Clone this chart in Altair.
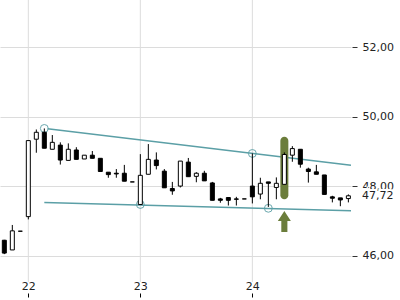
import altair as alt
import pandas as pd

# ---- data ----
idx = list(range(44))
opens = [46.44, 46.16, 46.70, 47.12, 49.35, 49.55, 49.06, 49.18, 48.74, 49.04,
         48.78, 48.89, 48.80, 48.40, 48.37, 48.37, 48.12, 47.47, 48.34, 48.75,
         48.43, 47.93, 48.00, 48.69, 48.28, 48.37, 48.09, 47.63, 47.67, 47.63,
         47.63, 48.00, 47.77, 48.12, 47.96, 48.05, 48.89, 49.06, 48.49, 48.41,
         48.32, 47.69, 47.66, 47.64]
highs = [46.45, 46.88, 46.70, 49.31, 49.63, 49.66, 49.47, 49.26, 49.23, 49.12,
         48.89, 49.01, 48.80, 48.40, 48.49, 48.61, 48.12, 48.92, 49.21, 48.97,
         48.49, 48.12, 48.72, 48.81, 48.40, 48.44, 48.12, 47.66, 47.67, 47.69,
         47.63, 48.94, 48.24, 48.12, 48.25, 48.97, 49.15, 49.06, 48.53, 48.61,
         48.32, 47.72, 47.66, 47.76]
lows = [46.04, 46.16, 46.70, 47.04, 48.96, 49.09, 49.06, 48.62, 48.74, 48.77,
        48.78, 48.80, 48.42, 48.24, 48.24, 48.14, 48.12, 47.47, 48.34, 48.48,
        47.95, 47.75, 47.96, 48.27, 48.11, 48.15, 47.59, 47.52, 47.44, 47.44,
        47.63, 47.50, 47.62, 47.40, 47.62, 48.05, 48.70, 48.53, 48.10, 48.34,
        47.76, 47.53, 47.42, 47.53]
closes = [46.07, 46.71, 46.70, 49.31, 49.55, 49.09, 49.26, 48.75, 49.06, 48.77,
          48.89, 48.80, 48.42, 48.33, 48.35, 48.14, 48.12, 48.31, 48.77, 48.59,
          47.95, 47.86, 48.72, 48.27, 48.37, 48.15, 47.59, 47.59, 47.59, 47.62,
          47.63, 47.69, 48.08, 48.08, 48.08, 48.91, 49.08, 48.63, 48.42, 48.34,
          47.76, 47.65, 47.60, 47.72]

day_pos = [3, 17, 31]
day_labels = ["22", "23", "24"]
y_ticks = [46, 48, 50, 52]

line_names = ["upper", "upper", "lower", "lower"]
line_x = [5.4, 43.33, 5, 43.33]
line_y = [49.65, 48.60, 47.53, 47.29]

circle_x = [5, 17, 31, 33]
circle_y = [49.66, 47.47, 48.94, 47.36]

hl_x = [35]
hl_lo = [47.62]
hl_hi = [49.42]
arrow_y = [46.98]

last_price = [47.72]
last_label = ["47,72"]

# ---- tables ----
cdf = pd.DataFrame({"i": idx, "o": opens, "h": highs, "l": lows, "c": closes})
cdf["dir"] = ["up" if c > o else "down" for o, c in zip(opens, closes)]
ddf = pd.DataFrame({"i": day_pos})
ldf = pd.DataFrame({"s": line_names, "i": line_x, "v": line_y})
kdf = pd.DataFrame({"i": circle_x, "v": circle_y})
hdf = pd.DataFrame({"i": hl_x, "lo": hl_lo, "hi": hl_hi, "ay": arrow_y})
pdf = pd.DataFrame({"v": last_price, "t": last_label})

TEAL = "#5b9fa6"
GREEN = "#6b7d3b"

label_expr = " : ".join(
    f"datum.value == {p} ? '{t}'" for p, t in zip(day_pos, day_labels)
) + " : ''"

xscale = alt.Scale(domain=[-0.54, 43.33], nice=False, zero=False, padding=0)
yscale = alt.Scale(domain=[44.92, 53.36], nice=False, zero=False, padding=0)
xaxis = alt.Axis(values=day_pos, labelExpr=label_expr, grid=False, domain=False,
                 tickSize=4, tickColor="#000", labelPadding=-17, labelFont="DejaVu Sans",
                 labelFontSize=11, labelColor="#222", title=None, labelAngle=0)
yaxis = alt.Axis(orient="right", values=y_ticks,
                 labelExpr="replace(format(datum.value, '.2f'), '.', ',')",
                 grid=True, gridColor="#dcdcdc", domain=False, tickSize=5, offset=1,
                 tickColor="#333", labelPadding=5, labelFont="DejaVu Sans",
                 labelFontSize=11, labelColor="#222", title=None)


def X(field):
    return alt.X(field, type="quantitative", scale=xscale, axis=xaxis)


def Y(field):
    return alt.Y(field, type="quantitative", scale=yscale, axis=yaxis)


vgrid = alt.Chart(ddf).mark_rule(color="#dcdcdc", strokeWidth=1).encode(
    x=X("i"), y=alt.value(0), y2=alt.value(282))

lines = alt.Chart(ldf).mark_line(color=TEAL, strokeWidth=1.5).encode(
    x=X("i"), y=Y("v"), detail="s:N")

circles = alt.Chart(kdf).mark_point(color=TEAL, size=62, strokeWidth=1, filled=False,
                                    opacity=0.9).encode(x=X("i"), y=Y("v"))

pill = alt.Chart(hdf).mark_bar(size=8, cornerRadius=4, color=GREEN).encode(
    x=X("i"), y=Y("lo"), y2="hi")

wicks = alt.Chart(cdf).mark_rule(color="#000", strokeWidth=1).encode(
    x=X("i"), y=Y("l"), y2="h")

bodies = alt.Chart(cdf).mark_bar(size=4, stroke="#000", strokeWidth=1).encode(
    x=X("i"), y=Y("o"), y2="c",
    fill=alt.Fill("dir:N", scale=alt.Scale(domain=["up", "down"], range=["#ffffff", "#000000"]),
                  legend=None))

arrow_path = "M0,-1 L0.62,-0.05 L0.29,-0.05 L0.29,1 L-0.29,1 L-0.29,-0.05 L-0.62,-0.05 Z"
arrow = alt.Chart(hdf).mark_point(shape=arrow_path, size=441, filled=True, color=GREEN,
                                  opacity=1, strokeWidth=0).encode(x=X("i"), y=Y("ay"))

price_bg = alt.Chart(pdf).mark_text(align="left", baseline="middle", font="DejaVu Sans",
                                    fontSize=11, stroke="#ffffff", strokeWidth=4,
                                    fill="#ffffff").encode(
    x=alt.value(362), y=Y("v"), text="t:N")
price_txt = alt.Chart(pdf).mark_text(align="left", baseline="middle", font="DejaVu Sans",
                                     fontSize=11, color="#222").encode(
    x=alt.value(362), y=Y("v"), text="t:N")

chart = alt.layer(vgrid, lines, circles, pill, wicks, bodies, arrow, price_bg, price_txt).properties(
    width=351, height=293, autosize="none",
    padding={"left": 0, "top": 0, "right": 49, "bottom": 7},
    background="#ffffff"
).configure_view(strokeWidth=0)

chart.save("out.html", embed_options={"renderer": "svg", "actions": False})
